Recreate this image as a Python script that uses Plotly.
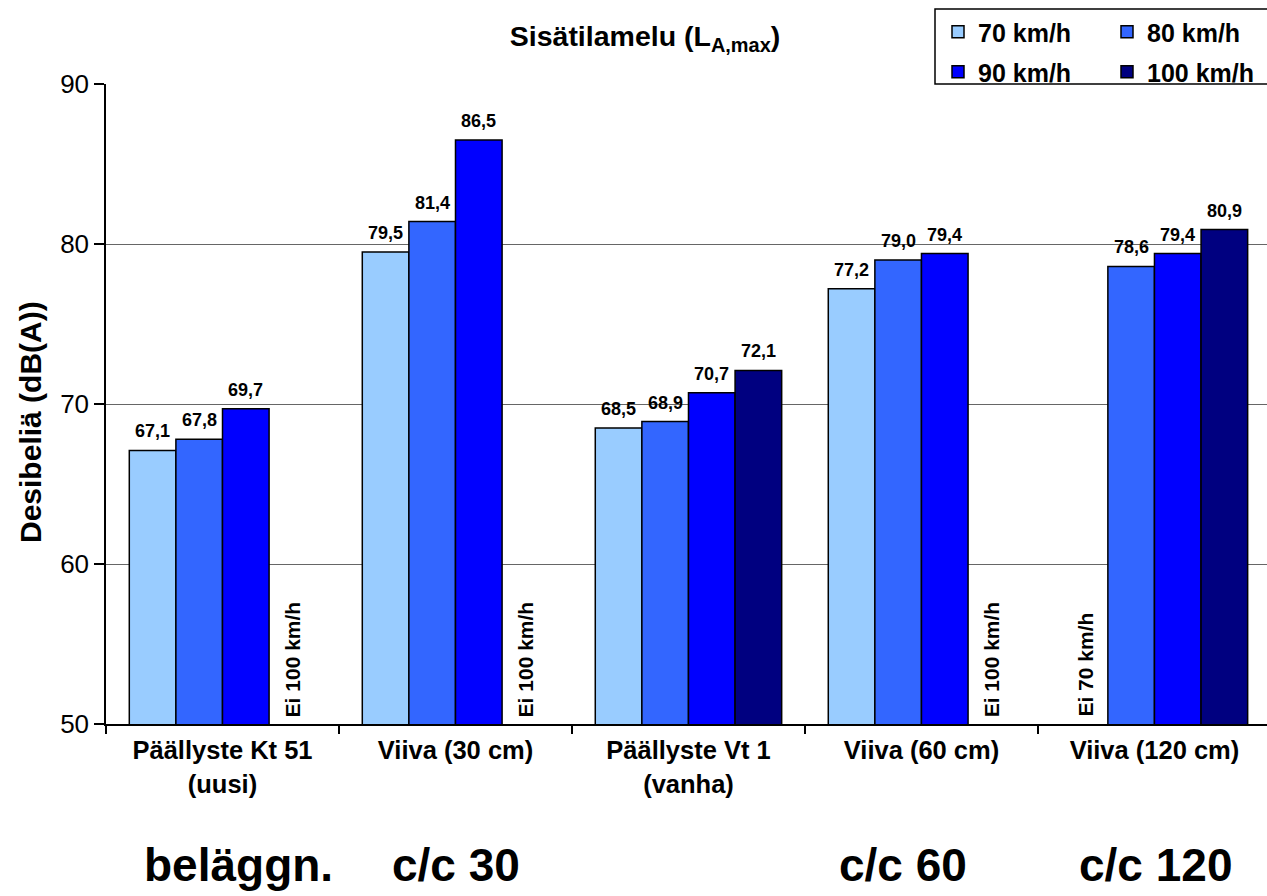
import plotly.graph_objects as go

categories = ["Päällyste Kt 51<br>(uusi)", "Viiva (30 cm)", "Päällyste Vt 1<br>(vanha)",
              "Viiva (60 cm)", "Viiva (120 cm)"]
series_names = ["70 km/h", "80 km/h", "90 km/h", "100 km/h"]
v70 = [67.1, 79.5, 68.5, 77.2, None]
v80 = [67.8, 81.4, 68.9, 79.0, 78.6]
v90 = [69.7, 86.5, 70.7, 79.4, 79.4]
v100 = [None, None, 72.1, None, 80.9]
series_values = [v70, v80, v90, v100]
colors = ["#99CCFF", "#3366FF", "#0000FF", "#000080"]
missing_notes = ["Ei 100 km/h", "Ei 100 km/h", None, "Ei 100 km/h", "Ei 70 km/h"]
bottom_labels = ["beläggn.", "c/c 30", "c/c 60", "c/c 120"]
bottom_px = [238, 456, 903, 1155]
y_ticks = [50, 60, 70, 80, 90]
y_title = "Desibeliä (dB(A))"

FONT = "Liberation Sans, Arial, Helvetica, sans-serif"
W, H = 1267, 896
ML, MR, MT, MB = 106, 0, 84, 172
PW, PH = W - ML - MR, H - MT - MB

def fmt(v):
    return f"{v:.1f}".replace(".", ",")

fig = go.Figure()
legend_names = ["legend", "legend2", "legend3", "legend4"]
for i, (name, vals, col) in enumerate(zip(series_names, series_values, colors)):
    fig.add_trace(go.Bar(
        x=categories, y=vals, name=name,
        marker=dict(color=col, line=dict(color="black", width=1.5)),
        legend=legend_names[i],
    ))

slot_off = [-0.3, -0.1, 0.1, 0.3]
annotations = []
for si, vals in enumerate(series_values):
    for ci, v in enumerate(vals):
        if v is None:
            continue
        annotations.append(dict(
            x=ci + slot_off[si], y=v, xref="x", yref="y", text=fmt(v),
            showarrow=False, yanchor="bottom", xanchor="center", yshift=7,
            font=dict(family=FONT, size=18, color="black", weight="bold")))

for ci, note in enumerate(missing_notes):
    if note is None:
        continue
    si = 0 if "70" in note else 3
    annotations.append(dict(
        x=ci + slot_off[si], y=50, xref="x", yref="y", text=note,
        showarrow=False, yanchor="bottom", xanchor="center", yshift=5,
        textangle=-90,
        font=dict(family=FONT, size=21, color="black", weight="bold")))

for lab, px in zip(bottom_labels, bottom_px):
    annotations.append(dict(
        x=(px - ML) / PW, y=-(865 - (MT + PH)) / PH, xref="paper", yref="paper",
        text=lab, showarrow=False, xanchor="center", yanchor="middle",
        font=dict(family=FONT, size=46, color="black", weight="bold")))

# y-axis title
annotations.append(dict(
    x=(30 - ML) / PW, y=(MT + PH - 422) / PH, xref="paper", yref="paper",
    text=y_title, showarrow=False, textangle=-90, xanchor="center", yanchor="middle",
    font=dict(family=FONT, size=30, color="black", weight="bold")))

# legends: 2x2 grid
leg_pos = [(938, 32), (1107, 32), (938, 72), (1107, 72)]
legend_layouts = {}
for name, (lx, ly) in zip(legend_names, leg_pos):
    legend_layouts[name] = dict(
        x=(lx - ML) / PW, y=1 + (MT - ly) / PH, xanchor="left", yanchor="middle",
        bgcolor="rgba(0,0,0,0)", borderwidth=0,
        font=dict(family=FONT, size=25, color="black", weight="bold"))

fig.update_layout(
    width=W, height=H,
    margin=dict(l=ML, r=MR, t=MT, b=MB, pad=0),
    paper_bgcolor="white", plot_bgcolor="white",
    barmode="group", bargap=0.2, bargroupgap=0,
    showlegend=True,
    title=dict(text="Sisätilamelu (L<sub>A,max</sub>)", x=645 / W, xanchor="center",
               xref="container", y=1 - 36 / H, yanchor="middle", yref="container",
               font=dict(family=FONT, size=28.5, color="black", weight="bold")),
    xaxis=dict(
        type="category", range=[-0.5, 4.483],
        showline=True, linecolor="black", linewidth=1.5,
        ticks="outside", tickson="boundaries", ticklen=8, tickcolor="black", tickwidth=1.5,
        ticklabelstandoff=3,
        tickfont=dict(family=FONT, size=25.5, color="black", weight="bold"),
        showgrid=False, fixedrange=True),
    yaxis=dict(
        range=[50, 90], tickvals=y_ticks,
        showline=True, linecolor="black", linewidth=1.5,
        ticks="outside", ticklen=10, tickcolor="black", tickwidth=1.5,
        ticklabelstandoff=0,
        tickfont=dict(family=FONT, size=26, color="black"),
        showgrid=True, gridcolor="#666666", gridwidth=1.3,
        zeroline=False, fixedrange=True),
    annotations=annotations,
    shapes=[dict(type="rect", xref="paper", yref="paper",
                 x0=(935 - ML) / PW, x1=1.01, y0=1.0, y1=1 + (MT - 9) / PH,
                 line=dict(color="black", width=1.5), fillcolor="rgba(0,0,0,0)")],
    **legend_layouts,
)

fig.write_html("out.html")
